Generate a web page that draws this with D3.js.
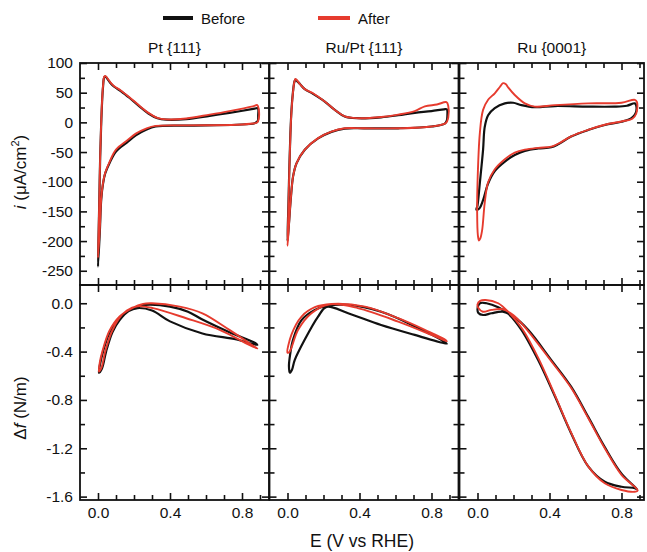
<!DOCTYPE html>
<html>
<head>
<meta charset="utf-8">
<script src="https://cdn.jsdelivr.net/npm/d3@7"></script>
<style>
  body { margin: 0; background: #fff; }
  text { font-family: "Liberation Sans", Arial, sans-serif; fill: #111; }
</style>
</head>
<body>
<script>
// panel titles and legend
var panels = ["Pt {111}", "Ru/Pt {111}", "Ru {0001}"];
var seriesNames = ["Before", "After"];
var seriesColors = ["#111111", "#e63b2e"];

// tick values
var xMajor = [0, 0.4, 0.8];
var xMinor = [0, 0.1, 0.2, 0.3, 0.4, 0.5, 0.6, 0.7, 0.8, 0.9];
var iMajor = [100, 50, 0, -50, -100, -150, -200, -250];
var iMinor = [75, 25, -25, -75, -125, -175, -225];
var sMajor = [0, -0.4, -0.8, -1.2, -1.6];
var sMinor = [-0.2, -0.6, -1.0, -1.4];

// current density (uA/cm2) vs E, loops: anodic sweep then cathodic back
var ptCvBefore = [[0.0,-243],[0.004,-180],[0.008,-120],[0.012,-60],[0.017,-10],[0.022,30],[0.028,60],[0.035,76],[0.042,77],[0.055,72],[0.07,66],[0.09,60],[0.13,52],[0.176,41],[0.23,27],[0.28,15],[0.33,7],[0.38,4.5],[0.49,5.5],[0.62,11],[0.73,16],[0.87,23],[0.888,24],[0.89,12],[0.887,2],[0.87,-1.5],[0.77,-4],[0.49,-5.5],[0.32,-7],[0.27,-12],[0.21,-22],[0.16,-34],[0.10,-49],[0.065,-68],[0.04,-86],[0.028,-103],[0.018,-130],[0.01,-185]];
var ptCvAfter = [[0.0,-228],[0.004,-175],[0.008,-118],[0.012,-58],[0.017,-8],[0.022,32],[0.028,62],[0.035,77],[0.042,78],[0.055,73],[0.07,67],[0.09,61],[0.13,53],[0.176,42],[0.23,28],[0.28,16],[0.33,7.5],[0.38,5],[0.49,6.5],[0.62,13],[0.73,19],[0.86,27],[0.885,29],[0.893,22],[0.893,6],[0.885,0],[0.86,-2],[0.77,-4],[0.49,-5],[0.32,-6],[0.27,-10],[0.21,-19],[0.16,-31],[0.10,-46],[0.065,-66],[0.04,-85],[0.028,-102],[0.018,-128],[0.01,-180]];
var ruPtCvBefore = [[0.0,-200],[0.005,-140],[0.01,-80],[0.016,-20],[0.022,20],[0.03,50],[0.038,68],[0.044,72],[0.055,69],[0.068,65],[0.096,56],[0.142,48],[0.207,35],[0.263,21],[0.318,10],[0.39,7],[0.52,8.5],[0.615,12],[0.707,16],[0.8,19],[0.87,22],[0.885,22],[0.888,10],[0.885,3],[0.874,-2],[0.8,-7],[0.615,-10],[0.43,-10],[0.318,-10.5],[0.244,-16],[0.17,-27],[0.096,-46],[0.05,-69],[0.031,-91],[0.018,-130],[0.007,-175]];
var ruPtCvAfter = [[0.0,-208],[0.005,-145],[0.01,-82],[0.016,-22],[0.022,18],[0.03,49],[0.038,68],[0.044,73],[0.055,70],[0.068,65],[0.096,56],[0.142,49],[0.207,35],[0.263,21],[0.318,10],[0.39,7],[0.52,9],[0.615,13],[0.707,19],[0.763,27],[0.83,30],[0.883,34],[0.893,28],[0.893,8],[0.88,-1],[0.8,-7],[0.615,-10],[0.43,-10],[0.318,-10],[0.244,-15.5],[0.17,-26.5],[0.096,-46],[0.05,-69],[0.031,-91],[0.018,-130],[0.007,-178]];
var ruCvBefore = [[-0.006,-147],[0.0,-140],[0.013,-102],[0.031,-46],[0.04,-8],[0.059,12],[0.096,24],[0.152,32],[0.198,33],[0.244,29],[0.318,25.5],[0.43,27.5],[0.614,26.5],[0.76,26.5],[0.83,28],[0.874,32],[0.882,28],[0.878,15],[0.855,7],[0.8,1],[0.707,-4.5],[0.614,-13],[0.52,-24],[0.448,-37],[0.41,-42],[0.337,-44],[0.263,-48],[0.207,-55],[0.152,-66],[0.096,-82],[0.059,-103],[0.031,-131],[0.01,-145]];
var ruCvAfter = [[0.008,-199],[0.002,-190],[-0.002,-150],[0.0,-103],[0.013,-18],[0.031,21],[0.059,38],[0.096,49],[0.125,60],[0.142,66],[0.158,64],[0.17,59],[0.207,46],[0.263,32],[0.318,26.5],[0.43,29],[0.614,32],[0.8,33],[0.874,38],[0.886,34],[0.882,15],[0.86,6],[0.8,1.5],[0.707,-4],[0.614,-12.5],[0.52,-23.5],[0.448,-36],[0.41,-41],[0.337,-43],[0.263,-46],[0.207,-51],[0.152,-62],[0.096,-79],[0.059,-101],[0.04,-136],[0.026,-181],[0.015,-196]];

// surface stress change (N/m) vs E
var ptStressBefore = [[0.005,-0.575],[0.012,-0.5],[0.028,-0.40],[0.065,-0.24],[0.12,-0.12],[0.185,-0.05],[0.24,-0.02],[0.287,-0.012],[0.4,-0.028],[0.5,-0.07],[0.58,-0.135],[0.73,-0.24],[0.875,-0.33],[0.885,-0.345],[0.77,-0.30],[0.58,-0.25],[0.4,-0.15],[0.3,-0.06],[0.22,-0.04],[0.17,-0.065],[0.12,-0.14],[0.08,-0.24],[0.045,-0.40],[0.022,-0.54]];
var ptStressAfter = [[0.005,-0.565],[0.01,-0.49],[0.026,-0.39],[0.063,-0.23],[0.12,-0.11],[0.19,-0.04],[0.25,-0.005],[0.3,0.0],[0.454,-0.028],[0.58,-0.083],[0.73,-0.22],[0.875,-0.365],[0.885,-0.375],[0.84,-0.345],[0.676,-0.22],[0.49,-0.124],[0.305,-0.04],[0.22,-0.025],[0.16,-0.06],[0.115,-0.13],[0.075,-0.24],[0.04,-0.40],[0.02,-0.53]];
var ruPtStressBefore = [[0.013,-0.575],[0.008,-0.52],[0.015,-0.42],[0.031,-0.30],[0.078,-0.14],[0.152,-0.055],[0.217,-0.022],[0.337,-0.014],[0.52,-0.07],[0.707,-0.19],[0.878,-0.325],[0.885,-0.335],[0.707,-0.262],[0.52,-0.18],[0.337,-0.083],[0.217,-0.03],[0.17,-0.11],[0.096,-0.30],[0.04,-0.47],[0.025,-0.55]];
var ruPtStressAfter = [[0.0,-0.41],[0.022,-0.26],[0.078,-0.11],[0.152,-0.033],[0.244,-0.006],[0.43,-0.028],[0.615,-0.124],[0.763,-0.22],[0.88,-0.305],[0.885,-0.315],[0.8,-0.262],[0.615,-0.152],[0.39,-0.04],[0.23,-0.01],[0.133,-0.083],[0.059,-0.22],[0.012,-0.40]];
var ruStressBefore = [[0.0,-0.05],[0.013,0.0],[0.05,0.0],[0.115,-0.033],[0.17,-0.085],[0.244,-0.22],[0.337,-0.47],[0.43,-0.77],[0.52,-1.076],[0.615,-1.35],[0.707,-1.477],[0.8,-1.518],[0.874,-1.53],[0.887,-1.54],[0.8,-1.41],[0.707,-1.19],[0.615,-0.94],[0.52,-0.69],[0.41,-0.47],[0.281,-0.22],[0.2,-0.11],[0.14,-0.07],[0.078,-0.083],[0.031,-0.097],[0.005,-0.08]];
var ruStressAfter = [[0.0,-0.01],[0.015,0.02],[0.045,0.027],[0.115,0.0],[0.17,-0.07],[0.25,-0.215],[0.34,-0.46],[0.43,-0.76],[0.52,-1.07],[0.615,-1.35],[0.707,-1.49],[0.8,-1.545],[0.874,-1.56],[0.89,-1.55],[0.8,-1.42],[0.707,-1.2],[0.615,-0.95],[0.52,-0.7],[0.41,-0.48],[0.281,-0.23],[0.2,-0.1],[0.14,-0.05],[0.078,-0.055],[0.03,-0.07],[0.005,-0.04]];

var cvData = [[ptCvBefore, ptCvAfter], [ruPtCvBefore, ruPtCvAfter], [ruCvBefore, ruCvAfter]];
var stressData = [[ptStressBefore, ptStressAfter], [ruPtStressBefore, ruPtStressAfter], [ruStressBefore, ruStressAfter]];

// layout
var panelLeft = [80, 269.5, 459.5];
var xMax = [0.95, 0.95, 0.925];
var pxPerVolt = 180;
var rows = [
    { top: 63, bottom: 285, domain: [-274, 100], major: iMajor, minor: iMinor, fmt: function (d) { return String(d); }, data: cvData },
    { top: 285, bottom: 500, domain: [-1.628, 0.151], major: sMajor, minor: sMinor, fmt: function (d) { return d.toFixed(1); }, data: stressData }
];

var svg = d3.select("body").append("svg")
    .attr("width", 647)
    .attr("height", 552);

// legend
var legend = svg.append("g");
[[163, 193, 201], [318, 350, 358]].forEach(function (p, k) {
    legend.append("line")
        .attr("x1", p[0]).attr("x2", p[1])
        .attr("y1", 18).attr("y2", 18)
        .attr("stroke", seriesColors[k])
        .attr("stroke-width", 4);
    legend.append("text")
        .attr("x", p[2]).attr("y", 24)
        .attr("font-size", 15)
        .text(seriesNames[k]);
});

rows.forEach(function (row, r) {
    var y = d3.scaleLinear().domain(row.domain).range([row.bottom, row.top]);

    panels.forEach(function (name, c) {
        var left = panelLeft[c];
        var x = d3.scaleLinear()
            .domain([-0.1, xMax[c]])
            .range([left, left + (xMax[c] + 0.1) * pxPerVolt]);

        var g = svg.append("g");
        var clipId = "clip" + r + c;
        g.append("clipPath").attr("id", clipId)
            .append("rect")
            .attr("x", x.range()[0]).attr("y", row.top)
            .attr("width", x.range()[1] - x.range()[0])
            .attr("height", row.bottom - row.top);

        // title over the top row
        if (r === 0) {
            g.append("text")
                .attr("x", (x.range()[0] + x.range()[1]) / 2)
                .attr("y", 53)
                .attr("text-anchor", "middle")
                .attr("font-size", 15.5)
                .text(name);
        }

        // curves
        var line = d3.line()
            .x(function (d) { return x(d[0]); })
            .y(function (d) { return y(d[1]); })
            .curve(d3.curveCatmullRomClosed.alpha(0.5));

        var curves = g.append("g").attr("clip-path", "url(#" + clipId + ")");
        row.data[c].forEach(function (pts, k) {
            curves.append("path")
                .attr("d", line(pts))
                .attr("fill", "none")
                .attr("stroke", seriesColors[k])
                .attr("stroke-width", k === 0 ? 2.2 : 1.9)
                .attr("stroke-linejoin", "round");
        });

        // inward ticks on all four sides
        function addAxis(axisFn, scale, vals, size, tx, ty, labels) {
            var a = axisFn(scale).tickValues(vals).tickSizeInner(-size).tickSizeOuter(0).tickPadding(7);
            a.tickFormat(labels || function () { return ""; });
            var ag = g.append("g").attr("transform", "translate(" + tx + "," + ty + ")").call(a);
            ag.select(".domain").remove();
            ag.selectAll("line").attr("stroke", "#111").attr("stroke-width", 1.6);
            ag.selectAll("text").attr("font-size", 15.5).attr("font-family", "Liberation Sans, Arial, sans-serif").attr("fill", "#111");
            return ag;
        }

        var xl = (r === 1) ? function (d) { return d.toFixed(1); } : null;
        addAxis(d3.axisBottom, x, xMajor, 7, 0, row.bottom, xl);
        addAxis(d3.axisBottom, x, xMinor.filter(function (v) { return xMajor.indexOf(v) < 0; }), 5, 0, row.bottom);
        addAxis(d3.axisTop, x, xMajor, 7, 0, row.top);
        addAxis(d3.axisTop, x, xMinor.filter(function (v) { return xMajor.indexOf(v) < 0; }), 5, 0, row.top);

        var yl = (c === 0) ? row.fmt : null;
        addAxis(d3.axisLeft, y, row.major, 7, x.range()[0], 0, yl);
        addAxis(d3.axisLeft, y, row.minor, 5, x.range()[0], 0);
        addAxis(d3.axisRight, y, row.major, 7, x.range()[1], 0);
        addAxis(d3.axisRight, y, row.minor, 5, x.range()[1], 0);

        // frame
        g.append("rect")
            .attr("x", x.range()[0]).attr("y", row.top)
            .attr("width", x.range()[1] - x.range()[0])
            .attr("height", row.bottom - row.top)
            .attr("fill", "none")
            .attr("stroke", "#111")
            .attr("stroke-width", 1.8);
    });
});

// axis titles
var yt1 = svg.append("text")
    .attr("transform", "translate(26,172) rotate(-90)")
    .attr("text-anchor", "middle")
    .attr("font-size", 17);
yt1.append("tspan").attr("font-style", "italic").text("i");
yt1.append("tspan").text(" (\u03bcA/cm");
yt1.append("tspan").attr("font-size", 11).attr("dy", -7).text("2");
yt1.append("tspan").attr("dy", 7).text(")");

var yt2 = svg.append("text")
    .attr("transform", "translate(26,408) rotate(-90)")
    .attr("text-anchor", "middle")
    .attr("font-size", 17);
yt2.append("tspan").text("\u0394");
yt2.append("tspan").attr("font-style", "italic").text("f");
yt2.append("tspan").text(" (N/m)");

svg.append("text")
    .attr("x", 362).attr("y", 547)
    .attr("text-anchor", "middle")
    .attr("font-size", 17.5)
    .text("E (V vs RHE)");
</script>
</body>
</html>
